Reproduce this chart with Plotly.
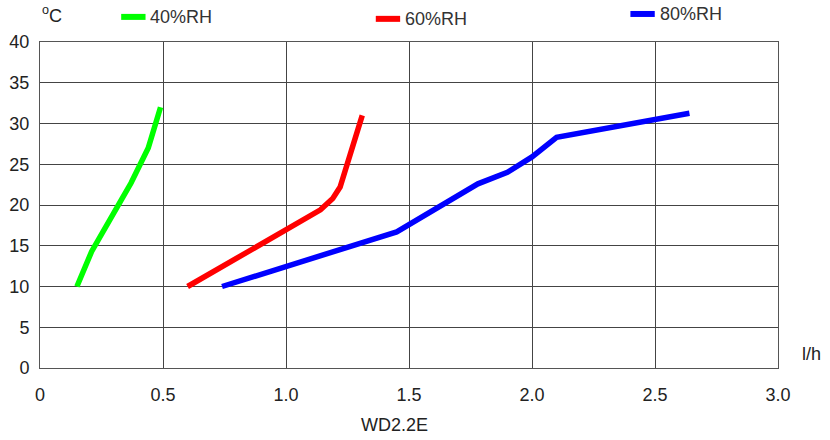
import plotly.graph_objects as go

# Data
rh40_x = [0.15, 0.21, 0.33, 0.37, 0.44, 0.49]
rh40_y = [10, 14.3, 20.6, 22.7, 27.0, 32.0]

rh60_x = [0.60, 1.14, 1.19, 1.22, 1.31]
rh60_y = [10, 19.4, 20.8, 22.2, 31.0]

rh80_x = [0.74, 1.45, 1.78, 1.90, 2.00, 2.10, 2.64]
rh80_y = [10, 16.7, 22.6, 24.0, 25.9, 28.3, 31.25]

x_ticks = [0, 0.5, 1.0, 1.5, 2.0, 2.5, 3.0]
x_tick_labels = ["0", "0.5", "1.0", "1.5", "2.0", "2.5", "3.0"]
y_ticks = [0, 5, 10, 15, 20, 25, 30, 35, 40]

series_names = ["40%RH", "60%RH", "80%RH"]
series_colors = ["#00ff00", "#ff0000", "#0000ff"]
series_x = [rh40_x, rh60_x, rh80_x]
series_y = [rh40_y, rh60_y, rh80_y]

font_family = "Liberation Sans, Arial, sans-serif"
text_color = "#222222"

fig = go.Figure()
for name, xs, ys, col in zip(series_names, series_x, series_y, series_colors):
    fig.add_trace(go.Scatter(
        x=xs, y=ys, mode="lines", name=name,
        line=dict(color=col, width=5.5),
    ))

fig.update_layout(
    width=830, height=440,
    margin=dict(l=40, r=52, t=42, b=72, autoexpand=False),
    paper_bgcolor="white", plot_bgcolor="white",
    showlegend=False,
    font=dict(family=font_family, color=text_color),
)

fig.update_xaxes(
    range=[0, 3.0], tickvals=x_ticks, ticktext=x_tick_labels,
    showgrid=True, gridcolor="#444444", gridwidth=1,
    showline=True, linecolor="#555555", linewidth=1, mirror=True,
    ticks="", ticklabelstandoff=10, zeroline=False, automargin=False,
    tickfont=dict(family=font_family, size=18, color=text_color),
)
fig.update_yaxes(
    range=[0, 40], tickvals=y_ticks,
    showgrid=True, gridcolor="#444444", gridwidth=1,
    showline=True, linecolor="#555555", linewidth=1, mirror=True,
    ticks="", ticklabelstandoff=6, zeroline=False, automargin=False,
    tickfont=dict(family=font_family, size=18, color=text_color),
)

# Custom legend placed like the reference (sample line + label)
legend_x = [0.110, 0.455, 0.800]   # paper x of sample start
legend_y = [1.077, 1.071, 1.086]   # paper y of each entry
sample_len = 0.033
for name, col, lx, ly in zip(series_names, series_colors, legend_x, legend_y):
    fig.add_shape(type="line", xref="paper", yref="paper",
                  x0=lx, x1=lx + sample_len, y0=ly, y1=ly,
                  line=dict(color=col, width=6))
    fig.add_annotation(text=name, xref="paper", yref="paper",
                       x=lx + sample_len + 0.004, y=ly, showarrow=False,
                       xanchor="left", yanchor="middle",
                       font=dict(family=font_family, size=18, color="#333333"))

fig.add_annotation(text="l/h", xref="paper", yref="paper", x=1.046, y=0.005,
                   showarrow=False, xanchor="center", yanchor="bottom",
                   font=dict(family=font_family, size=18, color=text_color))
fig.add_annotation(text="WD2.2E", xref="paper", yref="paper", x=0.481, y=-0.175,
                   showarrow=False, xanchor="center", yanchor="middle",
                   font=dict(family=font_family, size=18, color=text_color))
fig.add_annotation(text="<sup>o</sup>C", xref="paper", yref="paper", x=0.0, y=1.083,
                   showarrow=False, xanchor="left", yanchor="middle",
                   font=dict(family=font_family, size=18, color=text_color))

fig.write_html(
    "out.html",
    config={"displayModeBar": False},
    post_script="document.body.style.margin='0';document.body.style.overflow='hidden';",
)
